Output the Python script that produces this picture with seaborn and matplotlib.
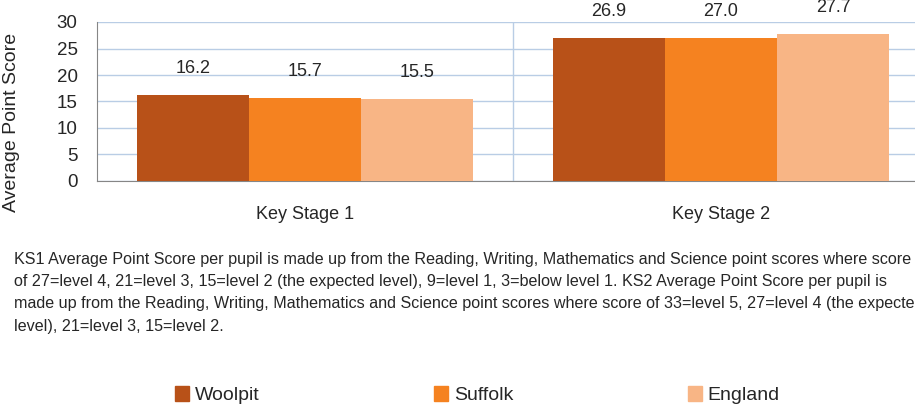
import numpy as np
import pandas as pd
import matplotlib
matplotlib.use("Agg")
import matplotlib.pyplot as plt
import seaborn as sns

sns.set_style("white")
plt.rcParams['font.family'] = ['Liberation Sans', 'DejaVu Sans']

# Data
stages = ["Key Stage 1", "Key Stage 2"]
areas = ["Woolpit", "Suffolk", "England"]
woolpit = [16.2, 26.9]
suffolk = [15.7, 27.0]
england = [15.5, 27.7]
colors = ["#B85118", "#F58220", "#F8B585"]
yticks = [0, 5, 10, 15, 20, 25, 30]
note = ("KS1 Average Point Score per pupil is made up from the Reading, Writing, Mathematics and Science point scores where score\n"
        "of 27=level 4, 21=level 3, 15=level 2 (the expected level), 9=level 1, 3=below level 1. KS2 Average Point Score per pupil is\n"
        "made up from the Reading, Writing, Mathematics and Science point scores where score of 33=level 5, 27=level 4 (the expected\n"
        "level), 21=level 3, 15=level 2.")

df = pd.DataFrame({
    "Stage": stages * 3,
    "Area": [a for a in areas for _ in stages],
    "Score": woolpit + suffolk + england,
})

fig = plt.figure(figsize=(9.15, 4.05), dpi=100)
ax = fig.add_axes([97 / 915, 1 - 181 / 405, 832 / 915, 159 / 405])

sns.barplot(data=df, x="Stage", y="Score", hue="Area", palette=colors,
            width=0.81, gap=0, saturation=1, errorbar=None, linewidth=0,
            ax=ax, zorder=3)

for cont in ax.containers:
    ax.bar_label(cont, fmt="%.1f", padding=13, fontsize=13)

ax.set_ylim(0, 30)
ax.set_xlim(-0.5, 1.5)
ax.set_yticks(yticks)
ax.tick_params(axis="y", labelsize=13.5, length=5, color="#868686", pad=9)
ax.tick_params(axis="x", labelsize=13, length=0, pad=18)
ax.set_xticks([-0.5, 0.5, 1.5], minor=True)
ax.tick_params(axis="x", which="minor", length=6, color="#868686")
ax.set_ylabel("Average Point Score", fontsize=14)
ax.yaxis.set_label_coords(-77 / 832, 0.37)
ax.set_xlabel("")

ax.grid(axis="y", color="#B9CDE5", linewidth=1, zorder=0)
for x in [0.5, 1.5]:
    ax.axvline(x, color="#B9CDE5", linewidth=1, zorder=0)
for s in ["top", "right"]:
    ax.spines[s].set_visible(False)
for s in ["left", "bottom"]:
    ax.spines[s].set_color("#868686")
ax.legend_.remove()

# note text runs past the right edge, as in the source
fig.text(14 / 915, 1 - 252 / 405, note, fontsize=11.6, va="top", ha="left",
         linespacing=1.6)

handles = [plt.Rectangle((0, 0), 1, 1, color=c) for c in colors]
fig.legend(handles, areas, loc="center left", bbox_to_anchor=(175 / 915, 1 - 395 / 405),
           ncol=3, frameon=False, fontsize=14, handlelength=0.7, handleheight=0.85,
           handletextpad=0.3, columnspacing=9.0, borderpad=0, borderaxespad=0)

fig.savefig("out.png", dpi=100)
